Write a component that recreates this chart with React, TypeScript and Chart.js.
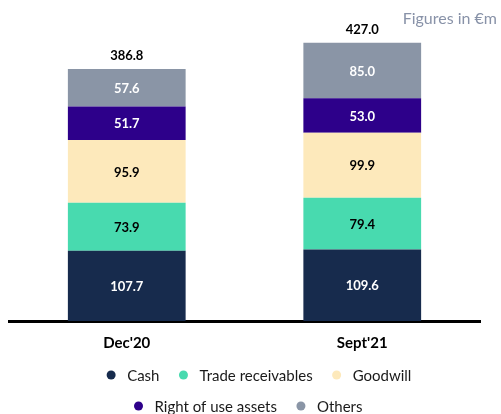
import React, { useEffect, useRef } from "react";
import { Chart, registerables } from "chart.js";

Chart.register(...registerables);

const categories = ["Dec'20", "Sept'21"];
const cash = [107.7, 109.6];
const tradeReceivables = [73.9, 79.4];
const goodwill = [95.9, 99.9];
const rightOfUse = [51.7, 53.0];
const others = [57.6, 85.0];
const totals = [386.8, 427.0];
const seriesNames = ["Cash", "Trade receivables", "Goodwill", "Right of use assets", "Others"];
const seriesColors = ["#172B4D", "#48DAAF", "#FDE9BB", "#2D008A", "#8A95A6"];
const valueLabelColors = ["#ffffff", "#000000", "#000000", "#ffffff", "#ffffff"];
const legendRows = [[0, 1, 2], [3, 4]];
const noteText = "Figures in €m";

const FONT = "Lato, 'Open Sans', sans-serif";

const labelsPlugin = {
  id: "valueLabels",
  afterDatasetsDraw(chart: any) {
    const ctx = chart.ctx;
    ctx.save();
    ctx.textAlign = "center";
    ctx.textBaseline = "middle";
    ctx.font = `bold 13px ${FONT}`;
    chart.data.datasets.forEach((ds: any, i: number) => {
      const meta = chart.getDatasetMeta(i);
      meta.data.forEach((bar: any, j: number) => {
        const p = bar.getProps(["x", "y", "base"], true);
        ctx.fillStyle = valueLabelColors[i];
        ctx.fillText(Number(ds.data[j]).toFixed(1), p.x, (p.y + p.base) / 2 + 1);
      });
    });
    const topMeta = chart.getDatasetMeta(chart.data.datasets.length - 1);
    topMeta.data.forEach((bar: any, j: number) => {
      const p = bar.getProps(["x", "y"], true);
      ctx.fillStyle = "#000000";
      ctx.fillText(totals[j].toFixed(1), p.x, p.y - 13);
    });
    ctx.restore();
  },
  afterDraw(chart: any) {
    const ctx = chart.ctx;
    ctx.save();
    ctx.font = `16px ${FONT}`;
    ctx.fillStyle = "#8892A8";
    ctx.textAlign = "right";
    ctx.textBaseline = "middle";
    ctx.fillText(noteText, chart.width - 4, 19);
    ctx.font = `15px ${FONT}`;
    ctx.textAlign = "left";
    const gapDotText = 16;
    const gapItem = 24;
    const r = 4.5;
    const rowYs = [chart.height - 39, chart.height - 8];
    const rowCenters = [268, 255];
    legendRows.forEach((row, ri) => {
      const widths = row.map((k) => ctx.measureText(seriesNames[k]).width);
      let total = 0;
      row.forEach((_k, n) => {
        total += r + gapDotText + widths[n];
        if (n < row.length - 1) total += gapItem;
      });
      let x = rowCenters[ri] - total / 2;
      row.forEach((k, n) => {
        ctx.beginPath();
        ctx.fillStyle = seriesColors[k];
        ctx.arc(x, rowYs[ri], r, 0, Math.PI * 2);
        ctx.fill();
        ctx.fillStyle = "#1a1a1a";
        ctx.fillText(seriesNames[k], x + gapDotText, rowYs[ri] + 1);
        x += gapDotText + widths[n] + gapItem;
      });
    });
    ctx.restore();
  },
};

export default function App() {
  const ref = useRef<HTMLCanvasElement | null>(null);
  useEffect(() => {
    if (!ref.current) return;
    const seriesData = [cash, tradeReceivables, goodwill, rightOfUse, others];
    const chart = new Chart(ref.current, {
      type: "bar",
      data: {
        labels: categories,
        datasets: seriesData.map((d, i) => ({
          label: seriesNames[i],
          data: d,
          backgroundColor: seriesColors[i],
          borderWidth: 0,
          barPercentage: 0.5,
          categoryPercentage: 1,
        })),
      },
      options: {
        animation: false,
        responsive: false,
        maintainAspectRatio: false,
        layout: { padding: { top: 14, left: 9, right: 21, bottom: 49 } },
        plugins: { legend: { display: false }, tooltip: { enabled: false } },
        scales: {
          x: {
            stacked: true,
            grid: { display: false, drawTicks: false },
            border: { display: true, color: "#000000", width: 3 },
            ticks: { color: "#000000", font: { family: FONT, size: 15, weight: "bold" }, padding: 13 },
          },
          y: {
            stacked: true,
            display: false,
            min: 0,
            max: 471,
          },
        },
      },
      plugins: [labelsPlugin],
    });
    return () => chart.destroy();
  }, []);
  return (
    <div style={{ position: "absolute", left: 0, top: 0, width: 501, height: 414, background: "#fff" }}>
      <canvas ref={ref} width={501} height={414} style={{ width: 501, height: 414, display: "block" }} />
    </div>
  );
}
